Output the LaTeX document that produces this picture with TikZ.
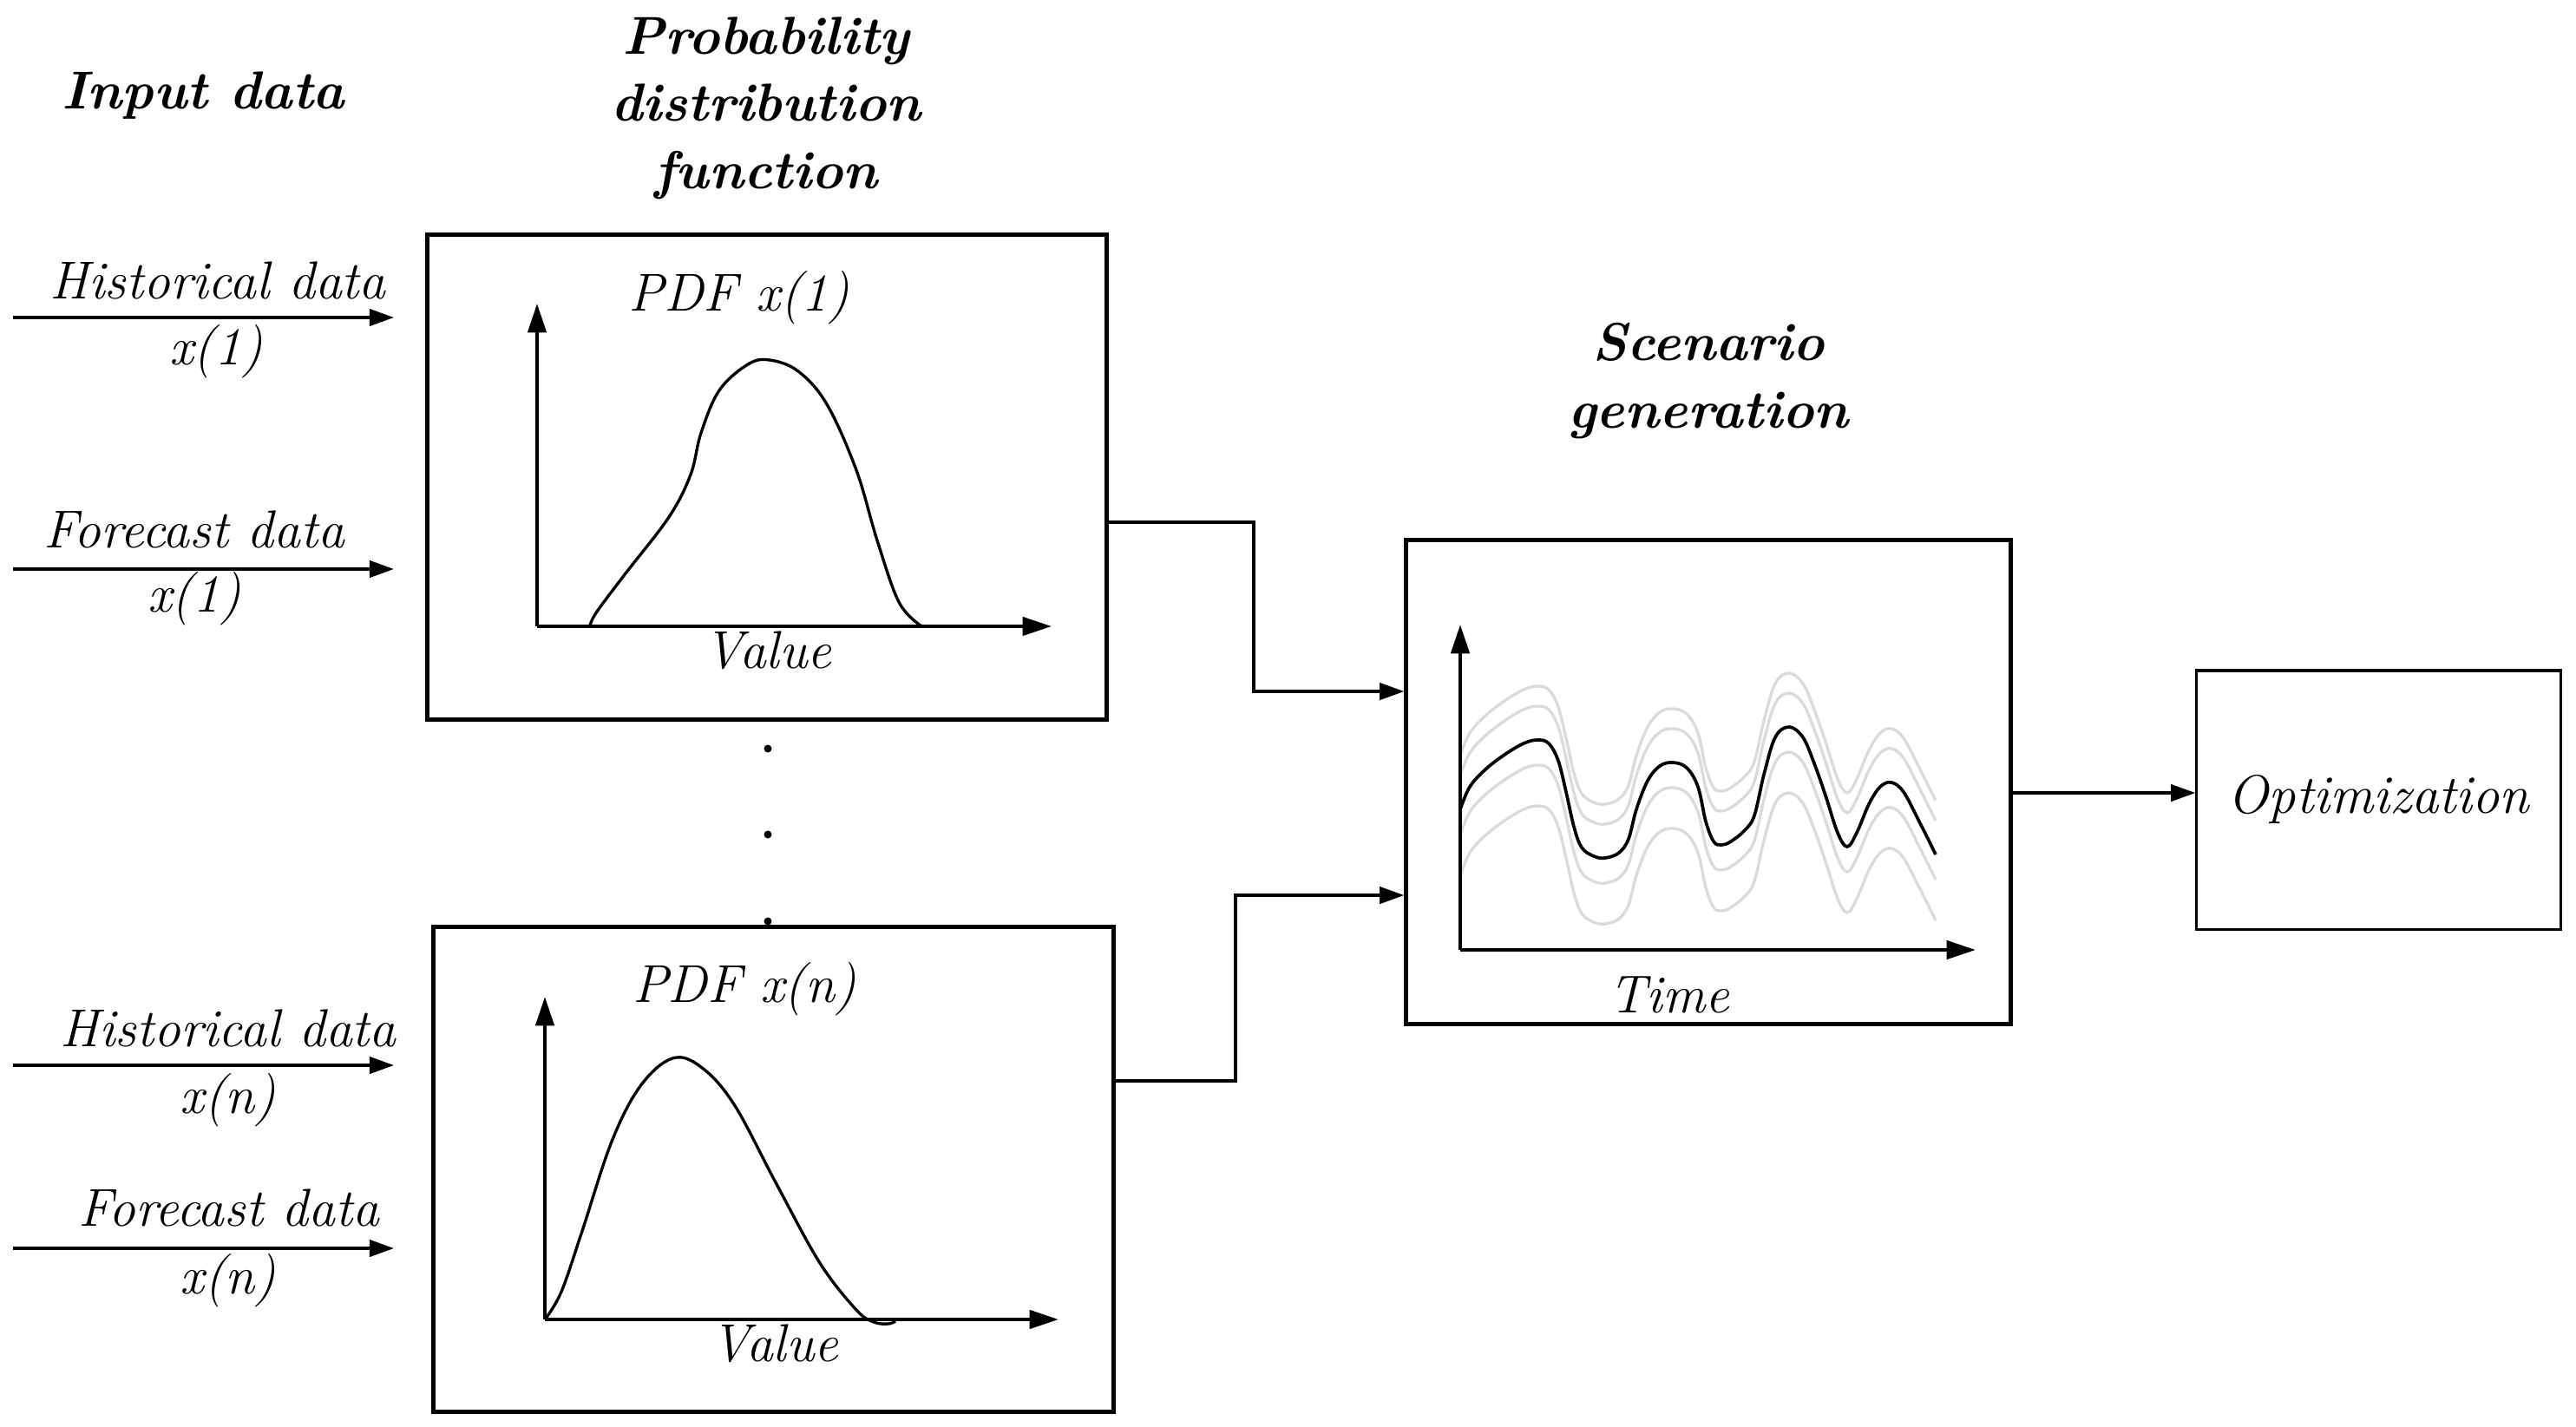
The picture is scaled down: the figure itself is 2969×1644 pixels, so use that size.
\documentclass[tikz,border=0pt]{standalone}
\usetikzlibrary{arrows.meta}
\begin{document}
\begin{tikzpicture}[x=0.01cm,y=-0.01cm,
  lbl/.style={font=\fontsize{17.5}{22}\selectfont\itshape, inner sep=0pt, anchor=base},
  ttl/.style={font=\fontsize{17.5}{22}\selectfont\bfseries\itshape, inner sep=0pt, align=center},
  frame/.style={draw, line width=1.4pt, inner sep=0pt},
  thinframe/.style={draw, line width=0.9pt, inner sep=0pt},
  axis/.style={line width=1.25pt, -{Triangle[length=9.5pt,width=6pt]}},
  conn/.style={line width=0.95pt, -{Triangle[length=8pt,width=5.5pt]}},
  curve/.style={line width=0.95pt},
  scurve/.style={line width=1.05pt},
  gcurve/.style={line width=0.95pt, color=black!14},
  dotmark/.style={fill=black}
]
\useasboundingbox (0,0) rectangle (2969,1644);

% titles
\node[ttl, anchor=base] (tin) at (234.5,125) {Input data};
\node[ttl, anchor=north] (tpdf) at (883,19) {Probability\\distribution\\function};
\node[ttl, anchor=north] (tscen) at (1969,372) {Scenario\\generation};

% boxes
\node[frame, minimum width=7.82cm, minimum height=5.58cm] (box1) at (884,550) {};
\node[frame, minimum width=7.83cm, minimum height=5.58cm] (box2) at (891.5,1348) {};
\node[frame, minimum width=6.96cm, minimum height=5.57cm] (scen) at (1969,901.5) {};
\node[thinframe, minimum width=4.19cm, minimum height=2.98cm,
      font=\fontsize{17.8}{22}\selectfont\itshape] (opt) at (2741.5,922) {Optimization};

% input arrows
\coordinate (h1s) at (15,366);  \coordinate (h1e) at (454,366);
\coordinate (f1s) at (15,656);  \coordinate (f1e) at (454,656);
\coordinate (hns) at (15,1228); \coordinate (hne) at (454,1228);
\coordinate (fns) at (15,1439); \coordinate (fne) at (454,1439);
\draw[conn] (h1s) -- (h1e);
\draw[conn] (f1s) -- (f1e);
\draw[conn] (hns) -- (hne);
\draw[conn] (fns) -- (fne);

\node[lbl] (lh1) at (251,344) {Historical data};
\node[lbl] (lh1x) at (249,420) {x(1)};
\node[lbl] (lf1) at (224,631) {Forecast data};
\node[lbl] (lf1x) at (224,705) {x(1)};
\node[lbl] (lhn) at (263,1206) {Historical data};
\node[lbl] (lhnx) at (263,1283) {x(n)};
\node[lbl] (lfn) at (264,1413) {Forecast data};
\node[lbl] (lfnx) at (263,1491) {x(n)};

% PDF x(1)
\node[lbl] (p1t) at (852,358) {PDF x(1)};
\coordinate (o1) at (619,722);
\draw[axis] (o1) -- (619,350);
\draw[axis] (o1) -- (1212,722);
\node[lbl] (v1) at (885,770) {Value};
\draw[curve] plot[smooth, tension=0.6] coordinates {(680,721) (688,705) (721,661) (771,596) (796,547) (808,499) (829,450) (862,420) (887,415) (920,428) (953,466) (987,542) (1011,623) (1036,694) (1061,721)};

% dots
\fill[dotmark] (885,863) circle[radius=0.045cm];
\fill[dotmark] (885,962) circle[radius=0.045cm];
\fill[dotmark] (885,1062) circle[radius=0.045cm];

% PDF x(n)
\node[lbl] (pnt) at (858,1155) {PDF x(n)};
\coordinate (on) at (628,1521);
\draw[axis] (on) -- (628,1149);
\draw[axis] (on) -- (1220,1521);
\node[lbl] (vn) at (893,1569) {Value};
\draw[curve] plot[smooth, tension=0.6] coordinates {(628,1521) (647,1489) (671,1419) (705,1316) (738,1252) (775,1220) (808,1230) (846,1273) (895,1365) (945,1456) (987,1510) (1007,1524) (1024,1526) (1032,1523)};

% scenario plot
\coordinate (os) at (1683,1095);
\foreach \off in {0.62,0.39,-0.29,-0.76}{
\draw[gcurve, yshift=\off cm] plot[smooth, tension=0.6] coordinates {(1683,933) (1694,907) (1712,887) (1734,870) (1756,857) (1772,853) (1785,857) (1796,877) (1805,913) (1814,953) (1823,977) (1837,987) (1850,989) (1866,983) (1877,967) (1886,933) (1899,900) (1913,883) (1928,879) (1944,885) (1957,907) (1966,947) (1975,970) (1984,974) (1995,970) (2011,957) (2022,940) (2033,893) (2046,850) (2062,838) (2078,850) (2091,880) (2104,917) (2118,960) (2129,976) (2140,960) (2154,927) (2167,907) (2180,902) (2194,913) (2212,947) (2231,985)};
}
\draw[scurve] plot[smooth, tension=0.6] coordinates {(1683,933) (1694,907) (1712,887) (1734,870) (1756,857) (1772,853) (1785,857) (1796,877) (1805,913) (1814,953) (1823,977) (1837,987) (1850,989) (1866,983) (1877,967) (1886,933) (1899,900) (1913,883) (1928,879) (1944,885) (1957,907) (1966,947) (1975,970) (1984,974) (1995,970) (2011,957) (2022,940) (2033,893) (2046,850) (2062,838) (2078,850) (2091,880) (2104,917) (2118,960) (2129,976) (2140,960) (2154,927) (2167,907) (2180,902) (2194,913) (2212,947) (2231,985)};
\draw[axis] (os) -- (1683,720);
\draw[axis] (os) -- (2277,1095);
\node[lbl] (tt) at (1924,1167) {Time};

% connectors
\draw[conn] (box1.east |- 0,602) -| (1445,797) -- (scen.west |- 0,797);
\draw[conn] (box2.east |- 0,1246) -| (1424,1032) -- (scen.west |- 0,1032);
\draw[conn] (scen.east |- 0,914) -- (opt.west |- 0,914);
\end{tikzpicture}
\end{document}
